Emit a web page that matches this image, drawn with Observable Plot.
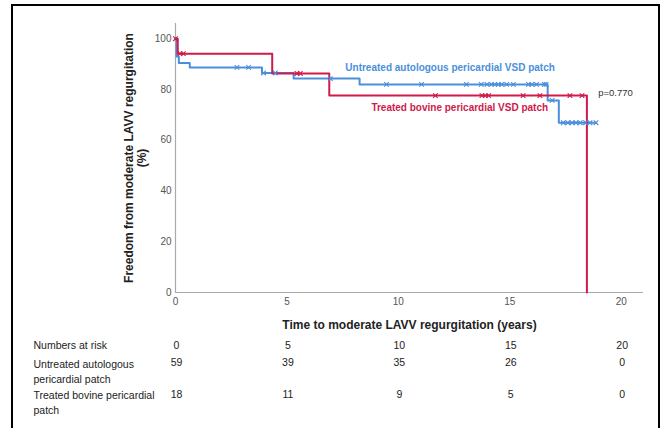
<!DOCTYPE html>
<html>
<head>
<meta charset="utf-8">
<script src="https://cdn.jsdelivr.net/npm/d3@7"></script>
<script src="https://cdn.jsdelivr.net/npm/@observablehq/plot@0.6"></script>
<style>
  html, body { margin: 0; padding: 0; background: #fff; }
  #wrap { position: relative; width: 663px; height: 428px; overflow: hidden; }
  #frame { position: absolute; left: 11px; top: 4px; width: 645px; height: 440px;
           border: 2.5px solid #000; border-bottom: none; pointer-events: none; }
  #chart { position: absolute; left: 0; top: 0; }
</style>
</head>
<body>
<div id="wrap"><div id="chart"></div><div id="frame"></div></div>
<script>
// ---- Data ----
const untreatedTimes = [0, 0.05, 0.15, 0.64, 3.88, 5.3, 8.26, 16.7, 17.2];
const untreatedSurv  = [100, 93.0, 90.4, 88.7, 86.5, 84.3, 82.0, 75.7, 66.9];
const untreatedEnd   = 18.87;
const untreatedCensorTimes = [2.76, 3.28, 3.95, 4.48, 6.95, 9.47, 11.04, 13.05, 13.72, 13.98, 14.18, 14.33, 14.48, 14.63, 14.86, 15.16, 15.84, 15.99, 16.2, 16.55, 16.63, 16.9, 17.4, 17.6, 17.8, 17.97, 18.16, 18.4, 18.6, 18.87];

const treatedTimes = [0, 0.1, 4.34, 6.9, 18.46];
const treatedSurv  = [100, 94.1, 86.3, 77.6, 0];
const treatedCensorTimes = [0, 0.2, 0.35, 5.45, 5.6, 11.66, 13.75, 13.9, 14.05, 15.6, 16.35, 17.7, 18.24];

const xTicks = [0, 5, 10, 15, 20];
const yTicks = [0, 20, 40, 60, 80, 100];

const riskTimes     = [0, 5, 10, 15, 20];
const untreatedRisk = [59, 39, 35, 26, 0];
const treatedRisk   = [18, 11, 9, 5, 0];

const untreatedLabel = "Untreated autologous pericardial VSD patch";
const treatedLabel   = "Treated bovine pericardial VSD patch";
const pLabel = "p=0.770";
const xLabel = "Time to moderate LAVV regurgitation (years)";
const yLabel = "Freedom from moderate LAVV regurgitation\n(%)";
const rowLabels = ["Numbers at risk", "Untreated autologous\npericardial patch", "Treated bovine pericardial\npatch"];

// ---- Build tables ----
function survivalAt(times, surv, t) {
  let s = surv[0];
  for (let i = 0; i < times.length; i++) if (times[i] <= t) s = surv[i];
  return s;
}
const untreatedLine = untreatedTimes.map((t, i) => ({t, s: untreatedSurv[i]}))
  .concat([{t: untreatedEnd, s: untreatedSurv[untreatedSurv.length - 1]}]);
const treatedLine = treatedTimes.map((t, i) => ({t, s: treatedSurv[i]}));
const untreatedCens = untreatedCensorTimes.map(t => ({t, s: survivalAt(untreatedTimes, untreatedSurv, t)}));
const treatedCens = treatedCensorTimes.map(t => ({t, s: survivalAt(treatedTimes, treatedSurv, t)}));

const BLUE = "#4a8fdc";
const RED = "#cf1a4a";
const INK = "#222";

const plot = Plot.plot({
  width: 663,
  height: 428,
  marginLeft: 175,
  marginRight: 20,
  marginTop: 23,
  marginBottom: 136,
  style: {fontFamily: "'Liberation Sans', Arial, sans-serif", fontSize: "10px", background: "transparent", overflow: "visible"},
  x: {domain: [0, 21]},
  y: {domain: [0, 106]},
  marks: [
    Plot.axisX({ticks: xTicks, tickSize: 0, tickPadding: 5, label: null, color: "#555", fontSize: 10}),
    Plot.axisY({ticks: yTicks, tickSize: 0, tickPadding: 4, label: null, color: "#555", fontSize: 10}),
    Plot.ruleY([0], {stroke: "#aaa", strokeWidth: 1.2}),
    Plot.ruleX([0], {stroke: "#aaa", strokeWidth: 1.2}),
    Plot.line(untreatedLine, {x: "t", y: "s", curve: "step-after", stroke: BLUE, strokeWidth: 2}),
    Plot.line(treatedLine, {x: "t", y: "s", curve: "step-after", stroke: RED, strokeWidth: 2}),
    Plot.dot(untreatedCens, {x: "t", y: "s", symbol: "times", r: 2.2, stroke: BLUE, strokeWidth: 1.1}),
    Plot.dot(treatedCens, {x: "t", y: "s", symbol: "times", r: 2.2, stroke: RED, strokeWidth: 1.1}),
    Plot.text([untreatedLabel], {x: 7.62, y: 88.6, text: d => d, textAnchor: "start", fill: BLUE, fontWeight: "bold", fontSize: 10}),
    Plot.text([treatedLabel], {x: 8.79, y: 72.8, text: d => d, textAnchor: "start", fill: RED, fontWeight: "bold", fontSize: 10}),
    Plot.text([pLabel], {x: 18.97, y: 78.7, text: d => d, textAnchor: "start", fill: "#333", fontSize: 9.5}),
    // axis titles
    Plot.text([xLabel], {frameAnchor: "bottom", dy: 33, lineAnchor: "middle", textAnchor: "middle", text: d => d, fontWeight: "bold", fontSize: 12, fill: INK}),
    Plot.text([yLabel], {frameAnchor: "left", dx: -40, rotate: -90, textAnchor: "middle", lineAnchor: "middle", text: d => d, fontWeight: "bold", fontSize: 12, lineHeight: 1.05, fill: INK}),
    // numbers at risk table
    Plot.text(riskTimes, {x: d => d, text: d => String(d), frameAnchor: "bottom", lineAnchor: "middle", textAnchor: "middle", dx: 1, dy: 53, fontSize: 10.5, fill: INK}),
    Plot.text(riskTimes, {x: d => d, text: (d, i) => String(untreatedRisk[i]), frameAnchor: "bottom", lineAnchor: "middle", textAnchor: "middle", dx: 1, dy: 70, fontSize: 10.5, fill: INK}),
    Plot.text(riskTimes, {x: d => d, text: (d, i) => String(treatedRisk[i]), frameAnchor: "bottom", lineAnchor: "middle", textAnchor: "middle", dx: 1, dy: 102, fontSize: 10.5, fill: INK}),
    Plot.text([rowLabels[0]], {frameAnchor: "bottom-left", dx: -142, dy: 53, lineAnchor: "middle", text: d => d, textAnchor: "start", fontSize: 10.5, fill: INK}),
    Plot.text([rowLabels[1]], {frameAnchor: "bottom-left", dx: -142, dy: 78, lineAnchor: "middle", text: d => d, textAnchor: "start", fontSize: 10.5, lineHeight: 1.5, fill: INK}),
    Plot.text([rowLabels[2]], {frameAnchor: "bottom-left", dx: -142, dy: 109.5, lineAnchor: "middle", text: d => d, textAnchor: "start", fontSize: 10.5, lineHeight: 1.45, fill: INK})
  ]
});
document.getElementById("chart").appendChild(plot);
</script>
</body>
</html>
